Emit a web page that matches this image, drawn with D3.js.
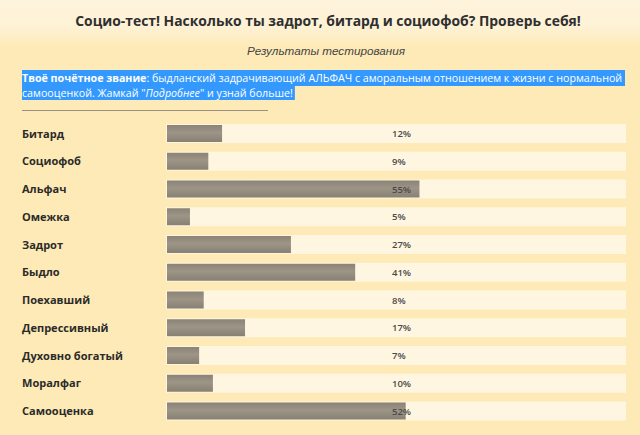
<!DOCTYPE html>
<html><head><meta charset="utf-8">
<script src="https://cdn.jsdelivr.net/npm/d3@7"></script>
<style>html,body{margin:0;padding:0;background:#feeab6;}svg{display:block;}</style>
</head><body>
<script>
const categories = ["Битард","Социофоб","Альфач","Омежка","Задрот","Быдло","Поехавший","Депрессивный","Духовно богатый","Моралфаг","Самооценка"];
const values = [12, 9, 55, 5, 27, 41, 8, 17, 7, 10, 52];
const titleText = "Социо-тест! Насколько ты задрот, битард и социофоб? Проверь себя!";
const subtitleText = "Результаты тестирования";

const W = 640, H = 435;
const svg = d3.select("body").append("svg").attr("width", W).attr("height", H);
const defs = svg.append("defs");
const bg = defs.append("linearGradient").attr("id","bg").attr("x1",0).attr("y1",0).attr("x2",0).attr("y2",1);
bg.append("stop").attr("offset","0%").attr("stop-color","#fef4dc");
bg.append("stop").attr("offset","6%").attr("stop-color","#fef2d6");
bg.append("stop").attr("offset","11%").attr("stop-color","#feeab6");
bg.append("stop").attr("offset","100%").attr("stop-color","#feeab6");
svg.append("rect").attr("width",W).attr("height",H).attr("fill","url(#bg)");

const bar = defs.append("linearGradient").attr("id","bar").attr("x1",0).attr("y1",0).attr("x2",0).attr("y2",1);
bar.append("stop").attr("offset","0%").attr("stop-color","#8a8376");
bar.append("stop").attr("offset","45%").attr("stop-color","#9d9687");
bar.append("stop").attr("offset","100%").attr("stop-color","#878073");

function fitText(sel, target){
  const w = sel.node().getComputedTextLength();
  const fs = parseFloat(sel.attr("font-size"));
  sel.attr("font-size", (fs*target/w).toFixed(2));
}

// title
const title = svg.append("text").attr("x",328).attr("y",26).attr("text-anchor","middle")
  .attr("font-family","'Open Sans',sans-serif").attr("font-weight","bold").attr("font-size",15)
  .attr("fill","#2f2f2f").text(titleText);
fitText(title, 506);

const sub = svg.append("text").attr("x",326).attr("y",55).attr("text-anchor","middle")
  .attr("font-family","'Liberation Sans',Arial,sans-serif").attr("font-style","italic").attr("font-size",12)
  .attr("fill","#444").text(subtitleText);
fitText(sub, 158);

// highlighted paragraph
const pg = svg.append("g");
const hl1 = pg.append("rect").attr("x",22).attr("y",70).attr("height",16).attr("fill","#3399ff");
const hl2 = pg.append("rect").attr("x",22).attr("y",86).attr("height",14).attr("fill","#3399ff");
const pFont = "'Open Sans',sans-serif";
const l1 = pg.append("text").attr("x",22).attr("y",82).attr("font-family",pFont).attr("font-size",12).attr("fill","#fff");
l1.append("tspan").attr("font-weight","bold").text("Твоё почётное звание");
l1.append("tspan").text(": быдланский задрачивающий АЛЬФАЧ с аморальным отношением к жизни с нормальной");
fitText(l1, 601);
const pfs = l1.attr("font-size");
const l2 = pg.append("text").attr("x",22).attr("y",97).attr("font-family",pFont).attr("font-size",pfs).attr("fill","#fff");
l2.append("tspan").text("самооценкой. Жамкай \"");
l2.append("tspan").attr("font-style","italic").text("Подробнее");
l2.append("tspan").text("\" и узнай больше!");
hl1.attr("width", 603);
hl2.attr("width", l2.node().getComputedTextLength()+2);

svg.append("line").attr("x1",22).attr("x2",268).attr("y1",110.5).attr("y2",110.5)
  .attr("stroke","#9a9184").attr("stroke-width",1);

// bars
const x = d3.scaleLinear().domain([0,100]).range([167,626]);
const y = d3.scaleBand().domain(categories).range([124, 124 + 27.75*10 + 19]).paddingInner(1 - 19/27.75).paddingOuter(0);
const rows = svg.append("g").selectAll("g").data(categories).join("g");
rows.append("rect").attr("x",x(0)-1).attr("y",d=>y(d)).attr("width",x(100)-x(0)+1).attr("height",y.bandwidth())
  .attr("fill","#fff6e1");
rows.append("rect").attr("x",x(0)).attr("y",d=>y(d)+1).attr("width",(d,i)=>x(values[i])-x(0)).attr("height",y.bandwidth()-2)
  .attr("fill","url(#bar)");
const lab = rows.append("text").attr("x",22).attr("y",d=>y(d)+y.bandwidth()/2+4)
  .attr("font-family","'Open Sans',sans-serif").attr("font-weight","bold").attr("font-size",11)
  .attr("fill","#2b2b2b").text(d=>d);
// fit label size so the longest label matches the reference width
const longest = lab.filter(d=>d==="Духовно богатый");
const lw = longest.node().getComputedTextLength();
lab.attr("font-size", (11*101/lw).toFixed(2));
rows.append("text").attr("x",392).attr("y",d=>y(d)+y.bandwidth()/2+3.5)
  .attr("font-family","'Open Sans',sans-serif").attr("font-weight","600").attr("font-size",9.5)
  .attr("fill","#4a4a4a").text((d,i)=>values[i]+"%");
</script>
</body></html>
